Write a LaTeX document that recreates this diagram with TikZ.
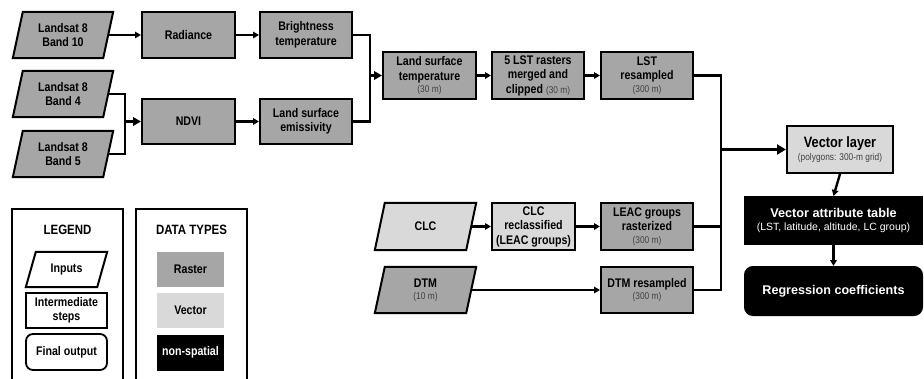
\documentclass[tikz,border=0pt]{standalone}
\usepackage{fontspec}
\setmainfont{Liberation Sans}[FakeStretch=0.85]
\newfontfamily\widefont{Liberation Sans}
\usetikzlibrary{arrows.meta,backgrounds}
\definecolor{rastercol}{HTML}{A6A6A6}
\definecolor{vectorcol}{HTML}{D9D9D9}
\definecolor{smallcol}{HTML}{404040}
\newcommand\smalltxt[1]{{\fontsize{9.8}{11}\selectfont\mdseries\color{smallcol}#1}}
\newcommand\paraframe[2]{\filldraw[line width=2pt, fill=#2, line join=miter]
  ([xshift=5pt]#1.north west) -- ([xshift=5pt]#1.north east) --
  ([xshift=-5pt]#1.south east) -- ([xshift=-5pt]#1.south west) -- cycle;}
\tikzset{
  box/.style={draw=black, line width=2pt, minimum height=46pt, align=center,
    font=\fontsize{12.5}{14.5}\selectfont\bfseries, inner sep=1pt},
  raster/.style={box, fill=rastercol},
  vector/.style={box, fill=vectorcol},
  blackbox/.style={box, fill=black, text=white},
  paranode/.style={minimum height=46pt, align=center,
    font=\fontsize{12.5}{14.5}\selectfont\bfseries, inner sep=1pt},
  legtitle/.style={font=\fontsize{13.5}{15}\selectfont\bfseries},
  legitem/.style={minimum width=81pt, minimum height=35pt, align=center, inner sep=1pt,
    font=\fontsize{12.5}{13.5}\selectfont\bfseries},
  frame/.style={draw=black, line width=1.6pt, anchor=north, minimum width=111pt, minimum height=190pt},
  conn/.style={line width=2.4pt},
  arr/.style={conn, -{Triangle[length=6pt,width=6.5pt]}},
  midarr/.style={conn, -{Triangle[length=8pt,width=8.5pt]}},
  bigarr/.style={conn, -{Triangle[length=9pt,width=10pt]}},
}
\begin{document}
\begin{tikzpicture}[x=1pt,y=-1pt]
\useasboundingbox (0,0) rectangle (924,378);
\clip (0,0) rectangle (924,378);
% inputs (parallelograms)
\node[paranode, minimum width=90pt] (b10) at (63,35) {Landsat 8\\Band 10};
\node[paranode, minimum width=90pt] (b4) at (63,94) {Landsat 8\\Band 4};
\node[paranode, minimum width=90pt] (b5) at (63,154) {Landsat 8\\Band 5};
\node[paranode, minimum width=91pt, minimum height=47pt] (clc) at (425.5,226.5) {CLC};
\node[paranode, minimum width=91pt] (dtm) at (425.5,290) {DTM\\[-2pt]\smalltxt{(10 m)}};
% intermediate steps
\node[raster, minimum width=93pt] (rad) at (188.5,35) {Radiance};
\node[raster, minimum width=92pt] (bt) at (306,35) {Brightness\\temperature};
\node[raster, minimum width=93pt, minimum height=45pt] (ndvi) at (188.5,121.5) {NDVI};
\node[raster, minimum width=92pt, minimum height=45pt] (lse) at (306,121.5) {Land surface\\emissivity};
\node[raster, minimum width=93pt, minimum height=47pt] (lst) at (429.5,75.5) {Land surface\\temperature\\[-2pt]\smalltxt{(30 m)}};
\node[raster, minimum width=92pt, minimum height=47pt] (mer) at (538,75.5) {5 LST rasters\\merged and\\clipped \smalltxt{(30 m)}};
\node[raster, minimum width=92pt, minimum height=47pt] (lsr) at (647,75.5) {LST\\resampled\\[-2pt]\smalltxt{(300 m)}};
\node[vector, minimum width=83pt, minimum height=47pt] (clcr) at (533.5,226.5) {CLC\\reclassified\\(LEAC groups)};
\node[raster, minimum width=92pt, minimum height=47pt] (leac) at (647,226.5) {LEAC groups\\rasterized\\[-2pt]\smalltxt{(300 m)}};
\node[raster, minimum width=92pt] (dtmr) at (647,290) {DTM resampled\\[-2pt]\smalltxt{(300 m)}};
\node[vector, minimum width=106pt, minimum height=47pt] (vl) at (840,149.5)
  {{\fontsize{15}{17}\selectfont Vector layer}\\[-2pt]\smalltxt{(polygons: 300-m grid)}};
\node[blackbox, minimum width=177pt, minimum height=47pt] (vat) at (833.5,220.5)
  {{\widefont\fontsize{12.7}{15}\selectfont\bfseries Vector attribute table}\\[-1pt]{\widefont\fontsize{10.5}{12}\selectfont\mdseries (LST, latitude, altitude, LC group)}};
\node[blackbox, rounded corners=8pt, minimum width=177pt, minimum height=48pt] (reg) at (833.5,291)
  {\widefont\fontsize{12.6}{15}\selectfont\bfseries Regression coefficients};
% junctions
\coordinate (jb) at (125,121.5);
\coordinate (jx) at (370,75.5);
\coordinate (jr) at (721,149.5);
% connectors
\draw[arr] (b10.east) -- (rad.west);
\draw[arr] (rad.east) -- (bt.west);
\draw[conn] (b4.east) -| (jb) |- (b5.east);
\draw[midarr] (jb) -- (ndvi.west);
\draw[arr] (ndvi.east) -- (lse.west);
\draw[conn] (bt.east) -| (jx) |- (lse.east);
\draw[midarr] (jx) -- (lst.west);
\draw[arr] (lst.east) -- (mer.west);
\draw[arr] (mer.east) -- (lsr.west);
\draw[arr] (clc.east) -- (clcr.west);
\draw[arr] (clcr.east) -- (leac.west);
\draw[arr] (dtm.east) -- (dtmr.west);
\draw[conn] (lsr.east) -| (jr) |- (dtmr.east);
\draw[conn] (leac.east) -- (leac.east -| jr);
\draw[bigarr] (jr) -- (vl.west);
\draw[arr] (vl.south) -- (vat.north);
\draw[arr] (vat.south) -- (reg.north);
% legend
\node[frame] (legframe) at (67.5,208) {};
\node[frame] (dtframe) at (191.5,208) {};
\node[legtitle] (legt) at (67.5,230) {LEGEND};
\node[legtitle] (dtt) at (191.5,230) {DATA TYPES};
\node[legitem, minimum width=71pt] (linp) at (66.5,269.5) {Inputs};
\node[legitem, draw=black, line width=1.8pt] (lint) at (66.5,310.5) {Intermediate\\steps};
\node[legitem, draw=black, line width=1.8pt, rounded corners=7pt, minimum height=36pt] (lfin) at (66.5,352) {Final output};
\node[legitem, fill=rastercol, minimum width=67pt] (draster) at (190.5,269.5) {Raster};
\node[legitem, fill=vectorcol, minimum width=67pt] (dvector) at (190.5,310.5) {Vector};
\node[legitem, fill=black, text=white, minimum width=67pt, minimum height=36pt] (dnon) at (190.5,352.5) {non-spatial};
% parallelogram outlines
\begin{scope}[on background layer]
\paraframe{b10}{rastercol}
\paraframe{b4}{rastercol}
\paraframe{b5}{rastercol}
\paraframe{clc}{vectorcol}
\paraframe{dtm}{rastercol}
\paraframe{linp}{white}
\end{scope}
\end{tikzpicture}
\end{document}
